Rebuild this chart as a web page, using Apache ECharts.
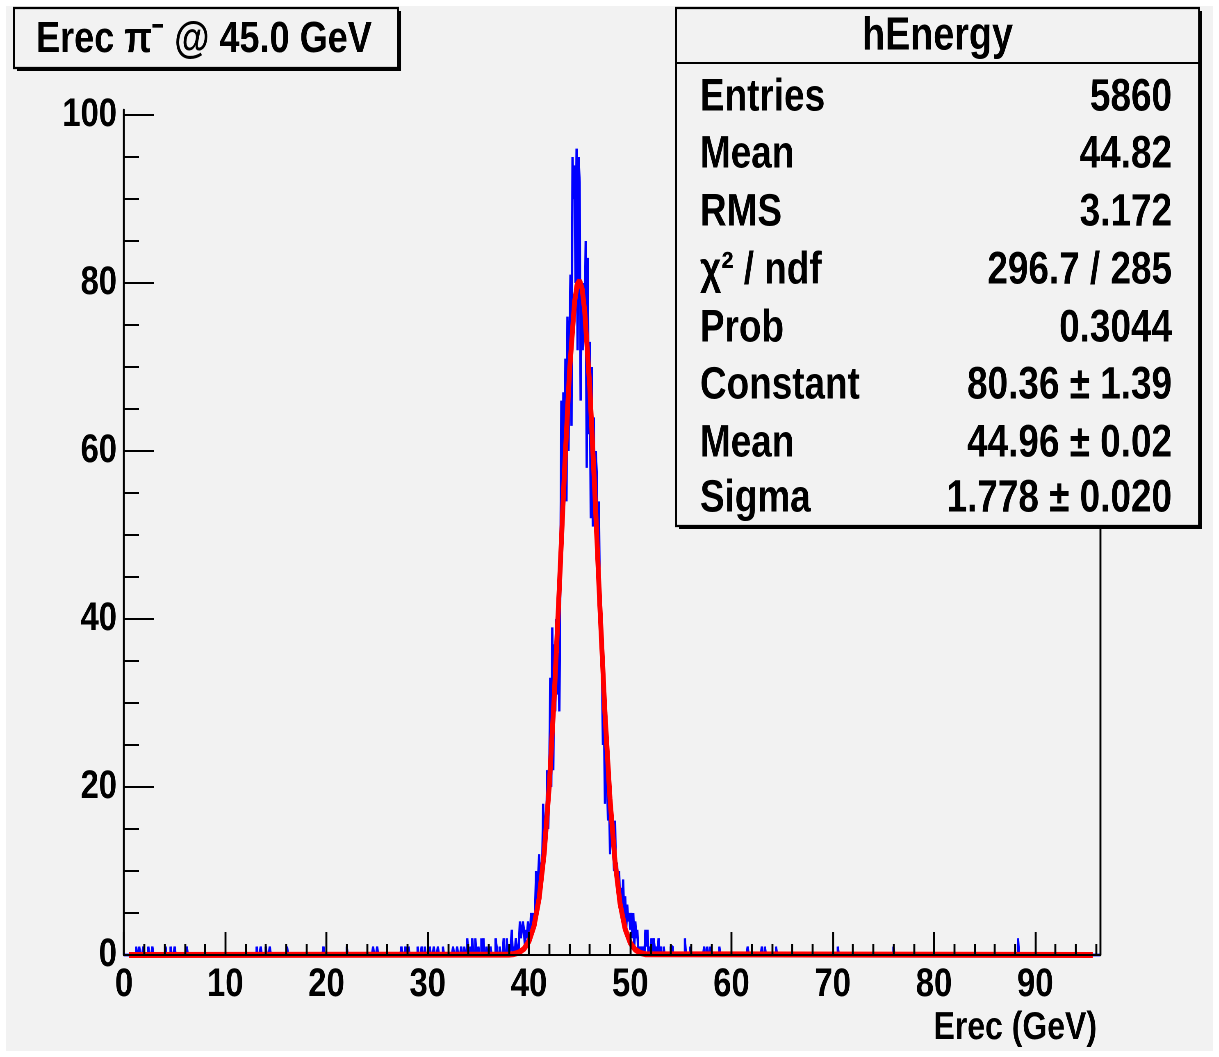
<!DOCTYPE html>
<html>
<head>
<meta charset="utf-8">
<script src="https://cdn.jsdelivr.net/npm/echarts@6/dist/echarts.min.js"></script>
<style>
html,body{margin:0;padding:0;background:#ffffff;overflow:hidden;}
#bg{position:absolute;left:6px;top:6px;width:1207px;height:1045px;background:#f2f2f2;}
#chart{position:absolute;left:0;top:0;width:1487px;height:1057px;transform:scaleX(0.82);transform-origin:0 0;}
</style>
</head>
<body>
<div id="bg"></div>
<div id="chart"></div>
<script>
// ---------------- data ----------------
const xTicks = [0, 10, 20, 30, 40, 50, 60, 70, 80, 90];
const yTicks = [0, 20, 40, 60, 80, 100];
const xMax = 96.4;
const yMax = 100.6;
const binWidth = 0.1;

// sparse tail bins: [bin low edge (GeV), entries]
const tailBins = [
  [1.2,1],[1.5,1],[1.9,1],[2.4,1],[2.8,1],[4.1,1],[4.6,1],[5.0,1],[6.2,1],
  [13.1,1],[13.5,1],[14.0,1],[14.4,1],[16.1,1],[19.7,1],[22.0,1],[24.6,1],[25.0,1],
  [27.4,1],[27.8,1],[28.1,1],[29.0,1],[29.4,1],[29.7,1],[30.2,1],[30.6,1],[31.0,1],
  [31.5,1],[32.5,1],[32.9,1],[33.3,1],[33.6,1],[33.9,2],[34.2,1],[34.4,2],[34.7,2],
  [35.0,1],[35.3,2],[35.5,2],[35.8,1],[36.2,1],[36.7,2],[36.8,1],[37.1,1],[37.5,2],[37.8,2],
  [52.1,2],[52.3,2],[52.4,1],[52.6,1],[52.8,2],[53.0,1],[53.3,1],[54.0,1],[54.1,1],
  [55.4,2],[55.9,1],[57.3,1],[57.6,1],[57.9,1],[58.8,1],[61.6,1],[63.0,1],[63.3,1],
  [64.4,1],[70.5,1],[76.0,1],[88.3,2]
];

// peak region bins, starting at 38.0 GeV, one value per 0.1 GeV bin
const peakStart = 38.0;
const peakCounts = [
  0,0,1,3,0,1,0,2,1,0,
  1,4,2,3,4,3,1,3,2,4,
  3,2,5,3,5,4,5,10,6,9,
  12,9,11,10,18,12,16,14,22,15,
  21,33,20,39,22,37,29,40,31,36,
  29,45,66,50,67,55,71,54,76,60,
  73,81,63,95,90,94,80,96,72,95,
  92,66,78,72,80,74,85,58,83,62,
  73,52,70,51,64,55,60,57,46,54,
  42,38,36,25,30,18,26,22,16,21,
  12,17,14,13,10,16,9,11,7,10,
  6,8,5,9,4,7,3,6,4,5,
  3,5,2,5,1,4,2,3,0,1,
  0,1,0,1,0,3,1,3,0,1,
  0
];

// Gaussian fit curve
const fitX = [0.5, 38, 38.5, 39, 39.5, 40, 40.5, 41, 41.5, 42, 42.5, 43, 43.5, 44, 44.5, 44.75, 45, 45.25, 45.5, 46, 46.5, 47, 47.5, 48, 48.5, 49, 49.5, 50, 50.5, 51, 51.5, 95.7];
const fitY = [0, 0.04, 0.11, 0.29, 0.72, 1.64, 3.46, 6.73, 12.1, 20.1, 30.9, 43.8, 57.4, 69.4, 77.7, 79.8, 80.3, 79.3, 76.7, 67.7, 55.2, 41.6, 28.9, 18.6, 11.1, 6.08, 3.08, 1.45, 0.63, 0.25, 0.09, 0];

const titleText = 'Erec π⁻ @ 45.0 GeV';
const statsTitle = 'hEnergy';
const statNames = ['Entries', 'Mean', 'RMS', 'χ² / ndf', 'Prob', 'Constant', 'Mean', 'Sigma'];
const statValues = ['5860', '44.82', '3.172', '296.7 / 285', '0.3044', '80.36 ± 1.39', '44.96 ± 0.02', '1.778 ± 0.020'];
const xTitle = 'Erec (GeV)';

// ---------------- build histogram ----------------
const nBins = Math.round(xMax / binWidth);
const counts = new Array(nBins).fill(0);
tailBins.forEach(([x, c]) => { counts[Math.round(x / binWidth)] = c; });
peakCounts.forEach((c, i) => { counts[Math.round(peakStart / binWidth) + i] = c; });
const histData = counts.map((c, i) => [Math.round(i * binWidth * 10) / 10, c]);
histData.push([xMax, 0]);
const fitData = fitX.map((x, i) => [x, fitY[i]]);

// ---------------- layout (page pixels; the chart canvas is condensed horizontally) ----------------
const S = 0.82;                 // horizontal condensing of the whole drawing
const X = px => px / S;         // page x -> chart x
const W = 1487;                 // chart container width (chart units)
const FONT = "'Liberation Sans', Arial, Helvetica, sans-serif";
const chart = echarts.init(document.getElementById('chart'), null, {renderer: 'canvas', devicePixelRatio: 2});

const graphics = [];
// title box
graphics.push({type: 'rect', z: 100, shape: {x: X(17), y: 11, width: X(384), height: 60}, style: {fill: '#000'}});
graphics.push({type: 'rect', z: 101, shape: {x: X(14), y: 8, width: X(384), height: 60}, style: {fill: '#f2f2f2', stroke: '#000', lineWidth: 2.2}});
graphics.push({type: 'text', z: 102, style: {text: titleText, x: X(36), y: 40, fontFamily: FONT, fontWeight: 'bold', fontSize: 44, fill: '#000', align: 'left', verticalAlign: 'middle'}});
// stats box
const sx = 676, sy = 8, sw = 523, sh = 518;
graphics.push({type: 'rect', z: 100, shape: {x: X(sx + 3), y: sy + 3, width: X(sw), height: sh}, style: {fill: '#000'}});
graphics.push({type: 'rect', z: 101, shape: {x: X(sx), y: sy, width: X(sw), height: sh}, style: {fill: '#f2f2f2', stroke: '#000', lineWidth: 2.2}});
graphics.push({type: 'line', z: 102, shape: {x1: X(sx), y1: 63, x2: X(sx + sw), y2: 63}, style: {stroke: '#000', lineWidth: 2}});
graphics.push({type: 'text', z: 102, style: {text: statsTitle, x: X(sx + sw / 2), y: 37, fontFamily: FONT, fontWeight: 'bold', fontSize: 46, fill: '#000', align: 'center', verticalAlign: 'middle'}});
const rowY = [98, 155, 213, 271, 329, 386, 444, 499];
statNames.forEach((n, i) => {
  graphics.push({type: 'text', z: 102, style: {text: n, x: X(700), y: rowY[i], fontFamily: FONT, fontWeight: 'bold', fontSize: 45, fill: '#000', align: 'left', verticalAlign: 'middle'}});
  graphics.push({type: 'text', z: 102, style: {text: statValues[i], x: X(1172), y: rowY[i], fontFamily: FONT, fontWeight: 'bold', fontSize: 45, fill: '#000', align: 'right', verticalAlign: 'middle'}});
});
// x axis title
graphics.push({type: 'text', z: 102, style: {text: xTitle, x: X(1097), y: 1028, fontFamily: FONT, fontWeight: 'bold', fontSize: 39, fill: '#000', align: 'right', verticalAlign: 'middle'}});

const hLine = {color: '#000', width: 2};      // horizontal strokes
const vLine = {color: '#000', width: 2.4};    // vertical strokes (condensed)
chart.setOption({
  animation: false,
  backgroundColor: 'transparent',
  grid: {left: X(124), right: W - X(1100), top: 110, bottom: 102, containLabel: false},
  xAxis: {
    type: 'value', min: 0, max: xMax, interval: 10, z: 5,
    axisLine: {onZero: false, lineStyle: hLine},
    axisTick: {inside: true, length: 23, customValues: xTicks, lineStyle: vLine},
    minorTick: {show: true, splitNumber: 5, length: 11, lineStyle: vLine},
    axisLabel: {customValues: xTicks, margin: 10, fontSize: 40, fontWeight: 'bold', fontFamily: FONT, color: '#000'},
    splitLine: {show: false}
  },
  yAxis: [{
    type: 'value', min: 0, max: yMax, interval: 20, z: 5,
    axisLine: {onZero: false, lineStyle: vLine},
    axisTick: {inside: true, length: X(30), customValues: yTicks, lineStyle: hLine},
    minorTick: {show: true, splitNumber: 4, length: X(15), lineStyle: hLine},
    axisLabel: {customValues: yTicks, margin: X(7), padding: [8, 0, 0, 0], fontSize: 40, fontWeight: 'bold', fontFamily: FONT, color: '#000'},
    splitLine: {show: false}
  }, {
    type: 'value', position: 'right', min: 0, max: yMax, z: 5,
    axisLine: {show: true, onZero: false, lineStyle: vLine},
    axisTick: {show: false}, axisLabel: {show: false}, splitLine: {show: false}
  }],
  series: [{
    type: 'line', name: 'hEnergy', data: histData, step: 'end', symbol: 'none', showSymbol: false,
    clip: false, z: 2, lineStyle: {color: '#0000ff', width: 2.8}
  }, {
    type: 'line', name: 'gaus', data: fitData, symbol: 'none', showSymbol: false,
    clip: false, z: 3, lineStyle: {color: '#ff0000', width: 6}
  }],
  graphic: graphics
});
</script>
</body>
</html>
